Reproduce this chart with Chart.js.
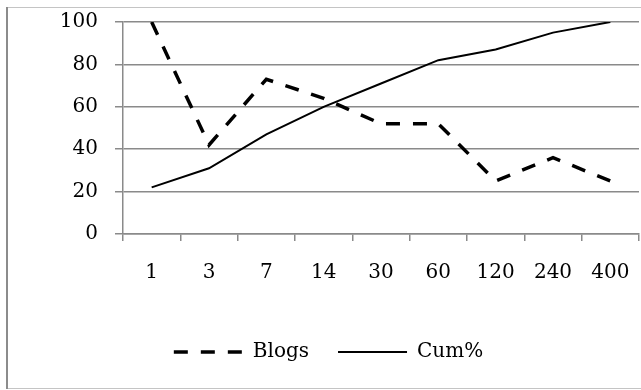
<!DOCTYPE html>
<html>
<head>
<meta charset="utf-8">
<script src="https://cdn.jsdelivr.net/npm/chart.js@4/dist/chart.umd.min.js"></script>
<style>
  html, body { margin: 0; padding: 0; background: #ffffff; }
  #wrap { width: 641px; height: 390px; }
</style>
</head>
<body>
<div id="wrap"><canvas id="c" width="641" height="390"></canvas></div>
<script>
// Days since posting
const categories = ['1', '3', '7', '14', '30', '60', '120', '240', '400'];
// Blogs (relative share) per interval
const blogs = [100, 42, 73, 64, 52, 52, 25, 36, 25];
// Cumulative percentage
const cumPct = [22, 31, 47, 60, 71, 82, 87, 95, 100];
// Y tick values
const yTicks = [0, 20, 40, 60, 80, 100];

const FAMILY = 'DejaVu Serif';
const FONT = { family: FAMILY, size: 20 };
const GRID = '#8a8a8a';
const PAD_LEFT = 18;

// frame around the whole chart
const framePlugin = {
  id: 'frame',
  beforeDraw(chart) {
    const ctx = chart.ctx;
    ctx.save();
    ctx.fillStyle = '#ffffff';
    ctx.fillRect(0, 0, chart.width, chart.height);
    ctx.strokeStyle = '#c4c4c4';
    ctx.lineWidth = 1;
    ctx.beginPath();
    ctx.moveTo(7, 7.5); ctx.lineTo(chart.width, 7.5);
    ctx.moveTo(7, 388.5); ctx.lineTo(chart.width, 388.5);
    ctx.stroke();
    ctx.strokeStyle = '#8c8c8c';
    ctx.lineWidth = 2;
    ctx.beginPath();
    ctx.moveTo(7, 7); ctx.lineTo(7, 389);
    ctx.stroke();
    ctx.restore();
  }
};

function draw() {
  new Chart(document.getElementById('c'), {
    type: 'line',
    data: {
      labels: categories,
      datasets: [
        {
          label: 'Blogs',
          data: blogs,
          borderColor: '#000000',
          backgroundColor: '#000000',
          borderWidth: 3.5,
          borderDash: [14, 13],
          borderCapStyle: 'butt',
          pointRadius: 0,
          pointStyle: 'line',
          tension: 0
        },
        {
          label: 'Cum%',
          data: cumPct,
          borderColor: '#000000',
          backgroundColor: '#000000',
          borderWidth: 2,
          pointRadius: 0,
          pointStyle: 'line',
          tension: 0
        }
      ]
    },
    options: {
      responsive: false,
      animation: false,
      layout: { padding: { left: PAD_LEFT, right: 2, top: 22, bottom: 18 } },
      plugins: {
        tooltip: { enabled: false },
        legend: {
          position: 'bottom',
          labels: {
            usePointStyle: true,
            pointStyleWidth: 69,
            padding: 29,
            color: '#000000',
            font: FONT,
            generateLabels(chart) {
              const items = Chart.defaults.plugins.legend.labels.generateLabels(chart);
              items.forEach(it => {
                const ds = chart.data.datasets[it.datasetIndex];
                it.lineDash = ds.borderDash || [];
                it.lineWidth = ds.borderWidth;
                it.lineCap = 'butt';
              });
              return items;
            }
          }
        }
      },
      scales: {
        x: {
          offset: true,
          grid: {
            offset: true,
            drawOnChartArea: false,
            drawTicks: true,
            tickLength: 7,
            color: GRID,
            lineWidth: 1.5
          },
          border: { color: GRID, width: 1.5 },
          ticks: { color: '#000000', font: FONT, padding: 20, maxRotation: 0, autoSkip: false },
          afterFit(scale) {
            scale.height = 79;
            scale.paddingLeft = 0;
            scale.paddingRight = 0;
          }
        },
        y: {
          min: 0,
          max: 100,
          afterBuildTicks(scale) { scale.ticks = yTicks.map(v => ({ value: v })); },
          grid: {
            color: GRID,
            lineWidth: 1.5,
            drawTicks: true,
            tickLength: 8
          },
          border: { color: GRID, width: 1.5 },
          ticks: { color: '#000000', font: FONT, padding: 17 },
          afterFit(scale) {
            scale.width = 123 - PAD_LEFT;
            scale.paddingTop = 0;
            scale.paddingBottom = 0;
          }
        }
      }
    },
    plugins: [framePlugin]
  });
}

if (document.fonts && document.fonts.load) {
  document.fonts.load('20px "' + FAMILY + '"').then(draw, draw);
} else {
  draw();
}
</script>
</body>
</html>
